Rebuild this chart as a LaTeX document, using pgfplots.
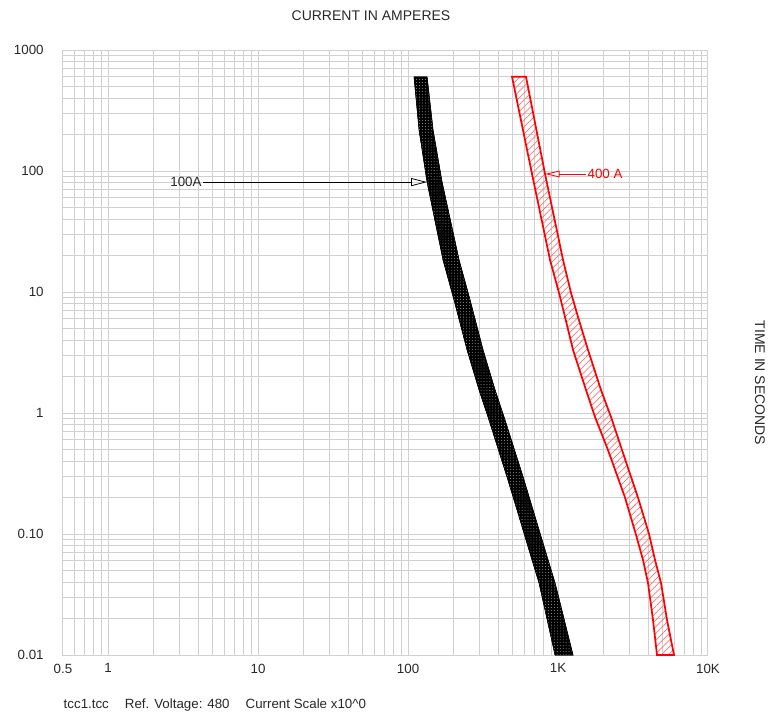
\documentclass[border=0pt]{standalone}
\usepackage{pgfplots}
\pgfplotsset{compat=1.18}
\usepackage{fontspec}
\setmainfont{Liberation Sans}
\usetikzlibrary{patterns,patterns.meta,arrows.meta}
\definecolor{gridgray}{RGB}{208,208,208}
\definecolor{txt}{RGB}{40,40,40}
\begin{document}
\begin{tikzpicture}
\useasboundingbox (0,0) rectangle (576pt,539.25pt);
\begin{axis}[
  at={(47.25pt,48pt)}, anchor=south west,
  scale only axis, width=483.75pt, height=453.75pt,
  xmode=log, ymode=log,
  xmin=0.5, xmax=10000, ymin=0.01, ymax=1000,
  xtick={0.5,1,10,100,1000,10000},
  xticklabels={0.5,1,10,100,1K,10K},
  ytick={0.01,0.1,1,10,100,1000},
  yticklabels={0.01,0.10,1,10,100,1000},
  minor xtick={0.6,0.7,0.8,0.9,2,3,4,5,6,7,8,9,20,30,40,50,60,70,80,90,200,300,400,500,600,700,800,900,2000,3000,4000,5000,6000,7000,8000,9000},
  minor ytick={0.02,0.03,0.04,0.05,0.06,0.07,0.08,0.09,0.2,0.3,0.4,0.5,0.6,0.7,0.8,0.9,2,3,4,5,6,7,8,9,20,30,40,50,60,70,80,90,200,300,400,500,600,700,800,900},
  grid=both,
  major grid style={gridgray, line width=0.75pt},
  minor grid style={gridgray, line width=0.75pt},
  axis line style={gridgray, line width=0.75pt},
  major tick length=0pt, minor tick length=0pt,
  /pgf/number format/assume math mode=true,
  ticklabel style={font=\fontsize{10}{12}\selectfont, text=txt},
  xticklabel style={yshift=-3pt},
  yticklabel style={xshift=-11pt},
  clip=false,
]
% black band (100A)
\addplot[draw=black, line width=0.4pt, fill=black,
  postaction={pattern={Dots[distance=2.2pt,radius=0.32pt]}, pattern color=white!75!black}]
  coordinates {
  (109.6,600) (118.4,218) (133.9,81.1) (171.1,18.4) (202.6,8.59) (247.4,3.32)
  (297.5,1.55) (341.5,0.927) (457.1,0.296) (533.0,0.158) (640.8,0.0738) (747.0,0.0394) (955,0.01)
  (1259,0.01) (955,0.0394) (819.2,0.0738) (681.3,0.158) (584.7,0.296) (436.5,0.927)
  (380.2,1.55) (316.2,3.32) (259.0,8.59) (218.8,18.4) (168.5,81.1) (146.8,218) (133.9,600)
  } -- cycle;
% red band (400 A)
\addplot[draw=red, line width=1.3pt, pattern={Lines[angle=45,distance=3.6pt,line width=0.4pt]}, pattern color=red!65]
  coordinates {
  (493.6,600) (670.8,94.5) (884.6,18.4) (1015,9.83) (1113,6.22) (1259,3.32) (1537,1.55)
  (1765,0.927) (2154,0.494) (2797,0.2) (3300,0.1) (3687,0.061) (3981,0.0394) (4298,0.0195) (4571,0.01)
  (5933,0.01) (5331,0.0195) (4862,0.0394) (4435,0.061) (4044,0.1) (3415,0.2) (2671,0.494) (2256,0.927)
  (1935,1.55) (1585,3.32) (1359,6.22) (1221,9.83) (1080,18.4) (819.2,94.5) (611.9,600)
  } -- cycle;
% annotations
\draw[black, line width=0.6pt, -{Triangle[open,length=12pt,width=6pt]}] (axis cs:4.3,81) -- (axis cs:134,81);
\node[anchor=east, inner sep=1pt, text=txt, font=\fontsize{10}{12}\selectfont] at (axis cs:4.3,81) {100A};
\draw[red, line width=0.6pt, -{Triangle[open,length=11pt,width=5pt]}] (axis cs:1537,94.5) -- (axis cs:819,94.5);
\node[anchor=west, inner sep=1pt, text=red, font=\fontsize{10}{12}\selectfont] at (axis cs:1537,94.5) {400 A};
\end{axis}
\node[text=txt, font=\fontsize{10.5}{12}\selectfont] at (278.25pt,527.25pt) {CURRENT IN AMPERES};
\node[text=txt, font=\fontsize{10.5}{12}\selectfont, rotate=-90] at (570pt,252pt) {TIME IN SECONDS};
\node[anchor=west, text=txt, font=\fontsize{10}{12}\selectfont] at (44.25pt,10.5pt) {tcc1.tcc\hspace{1.2em}Ref. Voltage: 480\hspace{1.2em}Current Scale x10\^{}0};
\end{tikzpicture}
\end{document}
